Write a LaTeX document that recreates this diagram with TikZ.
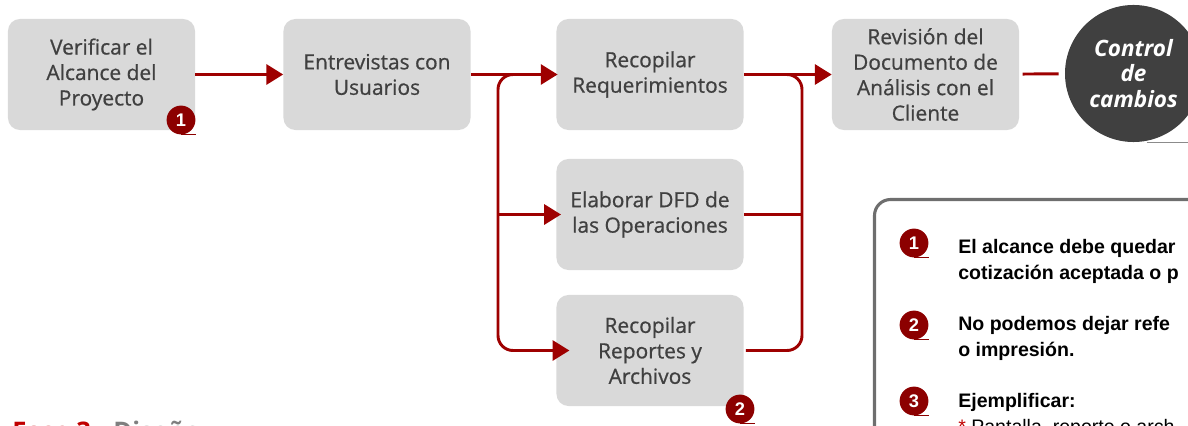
\documentclass[tikz,border=0pt]{standalone}
\usepackage{fontspec}
\setmainfont{Open Sans}
\newfontfamily\boxfont{Open Sans}[FakeBold=0.7]
\newfontfamily\notefont{Liberation Sans}
\usetikzlibrary{arrows.meta,calc,positioning}

\definecolor{boxgrey}{HTML}{D9D9D9}
\definecolor{textgrey}{HTML}{404040}
\definecolor{linered}{HTML}{9E0000}
\definecolor{badgered}{HTML}{8C0000}
\definecolor{framegrey}{HTML}{6E6E6E}
\definecolor{fasered}{HTML}{C00000}
\definecolor{fasegrey}{HTML}{7F7F7F}

\tikzset{
  box/.style={rectangle,rounded corners=0.3cm,fill=boxgrey,text=textgrey,
    minimum width=4.675cm,minimum height=2.775cm,align=center,inner sep=0pt,
    font=\boxfont\fontsize{14.9}{18.1}\selectfont},
  badge/.style={circle,fill=badgered,text=white,minimum size=0.72cm,inner sep=0pt,
    font=\notefont\bfseries\fontsize{13}{13}\selectfont},
  arrow/.style={draw=linered,line width=2.1pt,-{Triangle[length=0.42cm,width=0.5cm]}},
  link/.style={draw=linered,line width=2.1pt},
  note/.style={anchor=base west,align=left,inner sep=0pt,
    font=\notefont\bfseries\fontsize{13.9}{18.4}\selectfont},
}

\begin{document}
\begin{tikzpicture}[x=0.025cm,y=-0.025cm]
  \useasboundingbox (0,0) rectangle (1188,426);
  \clip (0,0) rectangle (1188,426);

  % pasos
  \node[box] (verif)  at (101.5,74.5) {Verificar el\\Alcance del\\Proyecto};
  \node[box] (entrev) at (377,74.5)   {Entrevistas con\\Usuarios};
  \node[box] (reqs)   at (650,74.5)   {Recopilar\\Requerimientos};
  \node[box] (dfd)    at (650,214.5)  {Elaborar DFD de\\las Operaciones};
  \node[box] (archiv) at (650,350.5)  {Recopilar\\Reportes y\\Archivos};
  \node[box] (revis)  at (925.5,74.5) {Revisión del\\Documento de\\Análisis con el\\Cliente};
  \node[circle,fill=textgrey,text=white,minimum size=3.425cm,inner sep=0pt,align=center,
    font=\bfseries\itshape\fontsize{16}{18.1}\selectfont] (cambios) at (1133.5,73.5) {Control\\de\\cambios};
  \draw[framegrey!80,line width=0.8pt] ([xshift=0.33cm]cambios.south) -- ++(60,0);

  \coordinate (fork)  at (498,74.5);
  \coordinate (merge) at (802,74.5);

  \draw[arrow] (verif) -- (entrev);
  \draw[arrow] (entrev) -- ([xshift=1pt]reqs.west);
  \draw[arrow,rounded corners=0.375cm] ([xshift=0.55cm]fork) -- (fork) |- ([xshift=0.33cm]archiv.west);
  \draw[arrow] (fork |- dfd.west) -- ([xshift=0.12cm]dfd.west);
  \draw[arrow] (reqs) -- (revis);
  \draw[link,rounded corners=0.375cm] ([xshift=0.05cm]archiv.east) -| (merge) -- ([xshift=-0.55cm]merge);
  \draw[link] (dfd.east) -- (merge |- dfd.east);
  \draw[link,shorten <=0.08cm,shorten >=0.15cm] (revis) -- (cambios);

  % llamadas
  \node[badge] (b1) at (181,120) {1};
  \draw[badgered,line width=0.6pt] (b1.south) -- ++(15,0);
  \node[badge] (b2) at (740,409) {2};
  \draw[badgered,line width=0.6pt] (b2.south) -- ++(15,0);

  % notas (base = ultima linea)
  \draw[framegrey,line width=2.2pt,rounded corners=0.4cm] (874.5,199.5) rectangle (1300,520);
  \node[badge] (n1) at (914,243) {1};
  \draw[badgered,line width=0.6pt] (n1.south) -- ++(15,0);
  \node[note] (t1) at (958,279.5) {El alcance debe quedar\\cotización aceptada o p};
  \node[badge] (n2) at (914,325) {2};
  \draw[badgered,line width=0.6pt] (n2.south) -- ++(15,0);
  \node[note] (t2) at (958,356.7) {No podemos dejar refe\\o impresión.};
  \node[badge] (n3) at (914,401) {3};
  \draw[badgered,line width=0.6pt] (n3.south) -- ++(15,0);
  \node[note] (t3) at (958,433) {Ejemplificar:\\{\mdseries\textcolor{fasered}{*} Pantalla, reporte o arch}};

  \node[anchor=base west,inner sep=0pt,font=\bfseries\fontsize{18.2}{20}\selectfont] (fase)
    at (12,440) {\textcolor{fasered}{Fase 3.}\hspace{0.38cm}\textcolor{fasegrey}{Diseño}};
\end{tikzpicture}
\end{document}
